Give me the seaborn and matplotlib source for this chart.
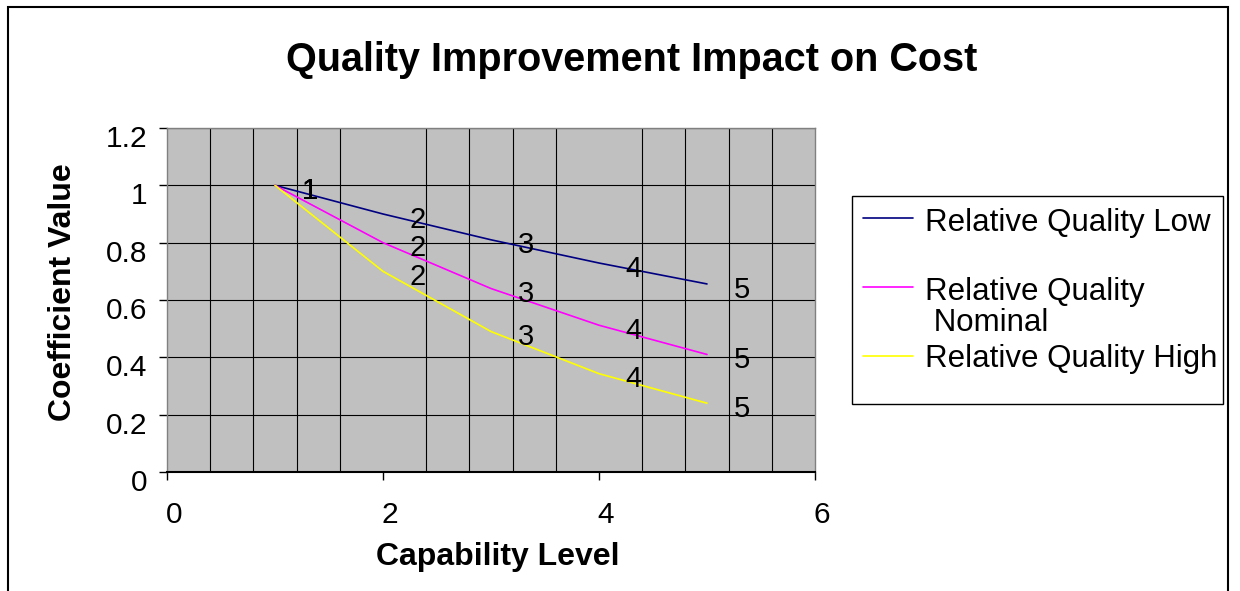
import pandas as pd
import matplotlib
matplotlib.use("Agg")
import matplotlib.pyplot as plt
import matplotlib.transforms as mtransforms
from matplotlib.lines import Line2D
from matplotlib.patches import Rectangle
import seaborn as sns

# Chart data
capability_level = [1, 2, 3, 4, 5]
quality_low = [1.0, 0.9, 0.81, 0.729, 0.656]
quality_nominal = [1.0, 0.8, 0.64, 0.512, 0.41]
quality_high = [1.0, 0.7, 0.49, 0.343, 0.24]
series_names = ["Relative Quality Low", "Relative Quality Nominal", "Relative Quality High"]
legend_labels = ["Relative Quality Low", "Relative Quality\n Nominal", "Relative Quality High"]
series_colors = ["#000080", "#FF00FF", "#FFFF00"]

df = pd.DataFrame({
    "Capability Level": capability_level * 3,
    "Coefficient Value": quality_low + quality_nominal + quality_high,
    "Series": [s for s in series_names for _ in capability_level],
})

sns.set_style("white")
plt.rcParams["font.family"] = ["Liberation Sans", "DejaVu Sans"]
plt.rcParams["text.color"] = "black"
plt.rcParams["xtick.color"] = "black"
plt.rcParams["ytick.color"] = "black"

W, H, DPI = 1240, 591, 100
fig = plt.figure(figsize=(W / DPI, H / DPI), dpi=DPI)
ax = fig.add_axes([167 / W, 1 - 472 / H, (815 - 167) / W, (472 - 128) / H])
ax.set_facecolor("#C0C0C0")

sns.lineplot(
    data=df,
    x="Capability Level",
    y="Coefficient Value",
    hue="Series",
    palette=series_colors,
    linewidth=1.2,
    legend=False,
    ax=ax,
)

# Data labels showing the capability level
for vals in [quality_low, quality_nominal, quality_high]:
    for xv, yv in zip(capability_level, vals):
        ax.annotate(str(xv), (xv, yv), xytext=(25, -4), textcoords="offset points",
                    ha="center", va="center", fontsize=21, color="black")

ax.set_xlim(0, 6)
ax.set_ylim(0, 1.2)
ax.set_xticks([0, 2, 4, 6])
ax.set_xticks([i * 0.4 for i in range(16)], minor=True)
ax.set_yticks([0, 0.2, 0.4, 0.6, 0.8, 1.0, 1.2])
ax.set_yticklabels(["0", "0.2", "0.4", "0.6", "0.8", "1", "1.2"])
ax.grid(which="minor", axis="x", color="black", linewidth=0.8)
ax.grid(which="major", axis="y", color="black", linewidth=0.8)
ax.set_axisbelow(True)
ax.tick_params(axis="x", which="minor", length=0)
ax.tick_params(axis="x", which="major", direction="out", length=6, width=1,
               labelsize=21.5, pad=15, bottom=True)
ax.tick_params(axis="y", direction="out", length=6, width=1, labelsize=21.5, pad=8, left=True)

for side in ["top", "right", "left"]:
    ax.spines[side].set_color("#808080")
    ax.spines[side].set_linewidth(1)
ax.spines["bottom"].set_color("black")
ax.spines["bottom"].set_linewidth(1.5)

# Excel-style label offsets
for lab in ax.get_xticklabels():
    lab.set_transform(lab.get_transform() + mtransforms.ScaledTranslation(0.07, 0, fig.dpi_scale_trans))
for lab in ax.get_yticklabels():
    lab.set_transform(lab.get_transform() + mtransforms.ScaledTranslation(0, -0.08, fig.dpi_scale_trans))

ax.set_xlabel("")
ax.set_ylabel("")
fig.text(498 / W, 1 - 557 / H, "Capability Level", ha="center", va="center",
         fontsize=23, fontweight="bold")
fig.text(63 / W, 1 - 292 / H, "Coefficient Value", ha="center", va="center",
         fontsize=23, fontweight="bold", rotation=90)
fig.text(632 / W, 1 - 60 / H, "Quality Improvement Impact on Cost", ha="center",
         va="center", fontsize=28.5, fontweight="bold")

# Legend box
fig.add_artist(Rectangle((852 / W, 1 - 404 / H), (1223 - 852) / W, (404 - 196) / H,
                         transform=fig.transFigure, facecolor="white",
                         edgecolor="black", linewidth=1))
handle_y = [218, 287, 356]
text_y = [223, 292, 359]
for label, color, hy, ty in zip(legend_labels, series_colors, handle_y, text_y):
    fig.add_artist(Line2D([863 / W, 913 / W], [1 - hy / H, 1 - hy / H],
                          transform=fig.transFigure, color=color, linewidth=1.2))
    for i, line in enumerate(label.split("\n")):
        fig.text(925 / W, 1 - (ty + i * 31) / H, line, ha="left", va="center", fontsize=22.5)

# Outer chart frame
fig.add_artist(Rectangle((8 / W, -0.1), (1228 - 8) / W, 1.1 - 7 / H,
                         transform=fig.transFigure, facecolor="none",
                         edgecolor="black", linewidth=1.5))

fig.savefig("out.png", dpi=DPI)
